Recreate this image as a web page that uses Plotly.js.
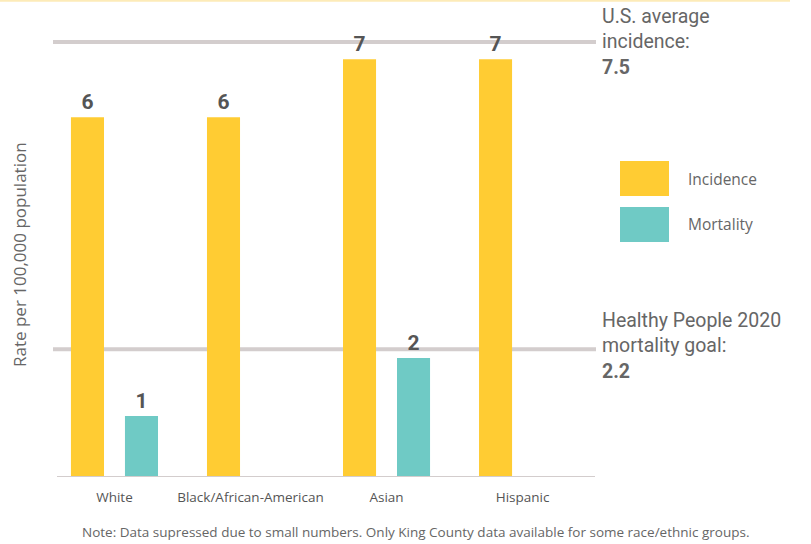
<!DOCTYPE html>
<html>
<head>
<meta charset="utf-8">
<script src="https://cdn.plot.ly/plotly-3.0.1.min.js"></script>
<style>
  html, body { margin: 0; padding: 0; background: #fff; }
  #chart { width: 811px; height: 544px; }
</style>
</head>
<body>
<div id="chart"></div>
<script>
// ---- data ----
const categories = ["White", "Black/African-American", "Asian", "Hispanic"];
const incidence = [6.2, 6.2, 7.2, 7.2];
const mortality = [1.05, null, 2.05, null];
const usAverageIncidence = 7.5;
const hp2020MortalityGoal = 2.2;
const seriesNames = ["Incidence", "Mortality"];
const yTitle = "Rate per 100,000 population";
const noteText = "Note: Data supressed due to small numbers. Only King County data available for some race/ethnic groups.";

// ---- styles ----
const YELLOW = "#FFCC33";
const TEAL = "#6FCAC5";
const LINEGRAY = "#D3CDCD";
const TEXT = "#666666";
const DARK = "#555555";

// layout geometry (pixels)
const W = 811, H = 544;
const M = { l: 53, r: 215, t: 10, b: 67 };
const PW = W - M.l - M.r, PH = H - M.t - M.b;
const px = x => (x - M.l) / PW;          // pixel x -> paper
const py = y => (H - M.b - y) / PH;      // pixel y -> paper
const yTop = 8.05;

const barW = 0.243;
const labelFont = { family: "Roboto, Arial, sans-serif", size: 21, color: DARK, weight: "bold" };
const traces = [
  {
    type: "bar", name: seriesNames[0], x: categories, y: incidence,
    width: barW, offset: -0.32,
    marker: { color: YELLOW },
    texttemplate: "%{y:.0f}", textposition: "outside", cliponaxis: false,
    textfont: labelFont, hoverinfo: "skip", showlegend: false
  },
  {
    type: "bar", name: seriesNames[1], x: categories, y: mortality,
    width: barW, offset: 0.077,
    marker: { color: TEAL },
    texttemplate: "%{y:.0f}", textposition: "outside", cliponaxis: false,
    textfont: labelFont, hoverinfo: "skip", showlegend: false
  }
];

const shapes = [
  // top pale border
  { type: "line", xref: "paper", yref: "paper", x0: px(0), x1: px(790), y0: py(0.8), y1: py(0.8),
    line: { color: "#FDEBB8", width: 2 } },
  // reference lines
  { type: "line", xref: "paper", yref: "y", x0: 0, x1: 1, y0: usAverageIncidence, y1: usAverageIncidence,
    line: { color: LINEGRAY, width: 4 }, layer: "below" },
  { type: "line", xref: "paper", yref: "y", x0: 0, x1: 1, y0: hp2020MortalityGoal, y1: hp2020MortalityGoal,
    line: { color: LINEGRAY, width: 4 }, layer: "below" },
  // baseline
  { type: "line", xref: "paper", yref: "y", x0: px(57), x1: px(595), y0: 0, y1: 0,
    line: { color: LINEGRAY, width: 2 } },
  // legend swatches
  { type: "rect", xref: "paper", yref: "paper", x0: px(620), x1: px(669), y0: py(196), y1: py(161),
    fillcolor: YELLOW, line: { width: 0 } },
  { type: "rect", xref: "paper", yref: "paper", x0: px(620), x1: px(669), y0: py(242), y1: py(207),
    fillcolor: TEAL, line: { width: 0 } }
];

const sideFont = { family: "Roboto, Arial, sans-serif", size: 19.5, color: TEXT };
const annotations = [
  { xref: "paper", yref: "y", x: px(600), y: usAverageIncidence, xanchor: "left", yanchor: "middle",
    align: "left", showarrow: false,
    text: "U.S. average<br>incidence:<br><b>" + usAverageIncidence + "</b>", font: sideFont },
  { xref: "paper", yref: "paper", x: px(600), y: py(346), xanchor: "left", yanchor: "middle",
    align: "left", showarrow: false,
    text: "Healthy People 2020<br>mortality goal:<br><b>" + hp2020MortalityGoal + "</b>", font: sideFont },
  { xref: "paper", yref: "paper", x: px(686), y: py(179), xanchor: "left", yanchor: "middle",
    showarrow: false, text: seriesNames[0],
    font: { family: "Open Sans, sans-serif", size: 15.5, color: TEXT } },
  { xref: "paper", yref: "paper", x: px(686), y: py(224), xanchor: "left", yanchor: "middle",
    showarrow: false, text: seriesNames[1],
    font: { family: "Open Sans, sans-serif", size: 15.5, color: TEXT } },
  { xref: "paper", yref: "paper", x: px(20), y: py(255), xanchor: "center", yanchor: "middle",
    textangle: -90, showarrow: false, text: yTitle,
    font: { family: "Open Sans, sans-serif", size: 17, color: TEXT } },
  { xref: "paper", yref: "paper", x: px(415), y: py(532), xanchor: "center", yanchor: "middle",
    showarrow: false, text: noteText,
    font: { family: "Open Sans, sans-serif", size: 13.5, color: TEXT } }
];

const layout = {
  width: W, height: H,
  margin: M,
  paper_bgcolor: "#fff", plot_bgcolor: "#fff",
  barmode: "overlay",
  showlegend: false,
  xaxis: {
    range: [-0.452, 3.540], showgrid: false, zeroline: false, showline: false,
    ticks: "", ticklabelstandoff: 10,
    tickfont: { family: "Open Sans, sans-serif", size: 13.5, color: DARK }
  },
  yaxis: {
    range: [0, yTop],
    showgrid: false, zeroline: false, showline: false, showticklabels: false, ticks: ""
  },
  shapes: shapes,
  annotations: annotations
};

Plotly.newPlot("chart", traces, layout, { staticPlot: true, displayModeBar: false });
</script>
</body>
</html>
